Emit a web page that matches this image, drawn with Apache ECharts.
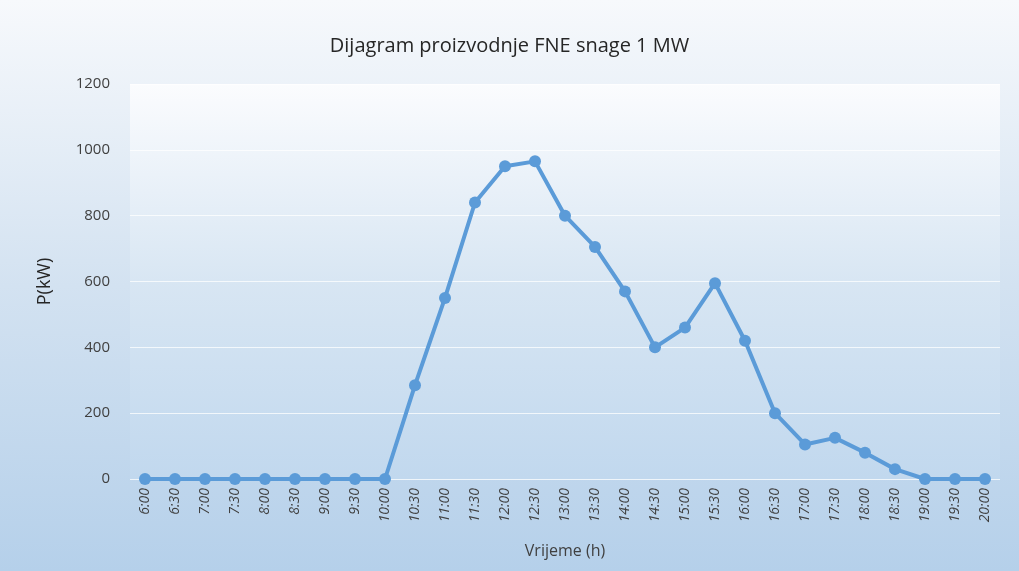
<!DOCTYPE html>
<html>
<head>
<meta charset="utf-8">
<script src="https://cdn.jsdelivr.net/npm/echarts@6/dist/echarts.min.js"></script>
<style>
  html, body { margin: 0; padding: 0; }
  #chart { width: 1019px; height: 571px; }
</style>
</head>
<body>
<div id="chart"></div>
<script>
const times = ['6:00', '6:30', '7:00', '7:30', '8:00', '8:30', '9:00', '9:30', '10:00', '10:30',
  '11:00', '11:30', '12:00', '12:30', '13:00', '13:30', '14:00', '14:30', '15:00', '15:30',
  '16:00', '16:30', '17:00', '17:30', '18:00', '18:30', '19:00', '19:30', '20:00']
const power = [0, 0, 0, 0, 0, 0, 0, 0, 0, 285,
  550, 840, 950, 965, 800, 705, 570, 400, 460, 595,
  420, 200, 105, 125, 80, 30, 0, 0, 0]
const yTicks = [0, 200, 400, 600, 800, 1000, 1200]

const chart = echarts.init(document.getElementById('chart'))
const fontFamily = '"Open Sans", "Noto Sans", sans-serif'

chart.setOption({
  animation: false,
  backgroundColor: new echarts.graphic.LinearGradient(0, 0, 0, 1, [
    { offset: 0, color: '#f7f9fc' },
    { offset: 0.5, color: '#d3e2f1' },
    { offset: 1, color: '#b5d0ea' }
  ]),
  title: {
    text: 'Dijagram proizvodnje FNE snage 1 MW',
    left: 'center',
    top: 31,
    textStyle: {
      color: '#262626',
      fontFamily,
      fontSize: 20,
      fontWeight: 'normal'
    }
  },
  grid: {
    left: 130,
    right: 19,
    top: 84,
    bottom: 92,
    show: true,
    borderWidth: 0,
    backgroundColor: new echarts.graphic.LinearGradient(0, 0, 0, 1, [
      { offset: 0, color: '#fbfcfe' },
      { offset: 0.5, color: '#d8e6f3' },
      { offset: 1, color: '#c1d8ee' }
    ])
  },
  xAxis: {
    type: 'category',
    data: times,
    boundaryGap: true,
    name: 'Vrijeme (h)',
    nameLocation: 'middle',
    nameGap: 64,
    nameTextStyle: {
      color: '#404040',
      fontFamily,
      fontSize: 16
    },
    axisLine: { show: false },
    axisTick: { show: false },
    axisLabel: {
      rotate: 90,
      interval: 0,
      margin: 9,
      color: '#404040',
      fontFamily,
      fontStyle: 'italic',
      fontSize: 14
    }
  },
  yAxis: {
    type: 'value',
    min: yTicks[0],
    max: yTicks[yTicks.length - 1],
    interval: yTicks[1] - yTicks[0],
    name: 'P(kW)',
    nameLocation: 'middle',
    nameGap: 76,
    nameRotate: 90,
    nameTextStyle: {
      color: '#262626',
      fontFamily,
      fontSize: 18
    },
    axisLine: { show: false },
    axisTick: { show: false },
    axisLabel: {
      margin: 20,
      color: '#404040',
      fontFamily,
      fontSize: 15,
      formatter: (v) => String(v)
    },
    splitLine: {
      lineStyle: {
        color: 'rgba(255, 255, 255, 0.75)',
        width: 1
      }
    }
  },
  series: [
    {
      type: 'line',
      data: power,
      symbol: 'circle',
      symbolSize: 12,
      lineStyle: {
        width: 4,
        color: '#5b9bd8'
      },
      itemStyle: {
        color: '#5b9bd8'
      }
    }
  ]
})
</script>
</body>
</html>
